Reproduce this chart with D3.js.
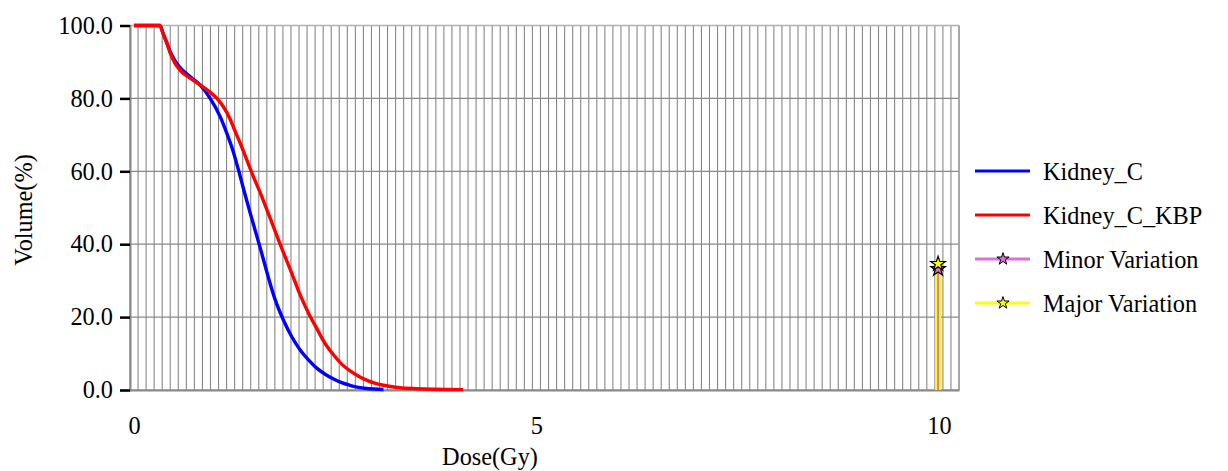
<!DOCTYPE html>
<html lang="en">
<head>
<meta charset="utf-8">
<title>Kidney_C DVH</title>
<script src="https://d3js.org/d3.v7.min.js"></script>
<style>
  body { margin: 0; background: #fff; }
  text { font-family: "Liberation Serif", "Times New Roman", serif; fill: #000; }
</style>
</head>
<body>
<script>

// Kidney_C (dose in Gy, volume in %)
var kidneyDose = [0, 0.32, 0.36, 0.41, 0.45, 0.51, 0.59, 0.70, 0.82, 0.94, 1.07, 1.15, 1.23, 1.30, 1.36, 1.44, 1.50, 1.57, 1.63, 1.67, 1.75, 1.86, 1.96, 2.06, 2.17, 2.27, 2.37, 2.48, 2.58, 2.68, 2.79, 2.89, 3.10];
var kidneyVol  = [100, 100, 97.9, 95.1, 92.8, 90.3, 88.0, 85.9, 83.7, 80.2, 75.0, 70.6, 65.6, 60.2, 55.2, 48.8, 44.2, 38.8, 34.0, 30.8, 25.0, 19.0, 14.6, 11.1, 8.2, 6.0, 4.4, 3.0, 2.0, 1.3, 0.7, 0.4, 0.15];

// Kidney_C_KBP
var kbpDose = [0, 0.32, 0.36, 0.41, 0.45, 0.51, 0.59, 0.70, 0.82, 0.94, 1.03, 1.11, 1.19, 1.25, 1.32, 1.40, 1.48, 1.57, 1.65, 1.73, 1.81, 1.90, 1.96, 2.06, 2.17, 2.27, 2.37, 2.48, 2.58, 2.68, 2.79, 2.89, 3.00, 3.10, 3.30, 3.51, 3.72, 4.09];
var kbpVol  = [100, 100, 97.9, 95.1, 92.4, 89.6, 87.3, 85.5, 83.7, 81.8, 80.0, 77.7, 74.5, 71.3, 67.7, 63.2, 58.7, 54.0, 49.5, 44.9, 40.3, 35.3, 32.0, 26.3, 21.0, 16.9, 12.9, 9.6, 7.1, 5.3, 3.8, 2.7, 1.8, 1.3, 0.6, 0.35, 0.2, 0.1];

// variation markers
var minorDose = [9.99, 9.99];
var minorVol  = [0, 33.2];
var majorDose = [9.965, 9.965, 10.015, 10.015];
var majorVol  = [0, 34.6, 34.6, 0];
var minorStar = [9.99, 33.2];
var majorStar = [9.99, 34.6];

var yTicks = [0, 20, 40, 60, 80, 100];
var xTicks = [0, 5, 10];

var legendNames = ["Kidney_C", "Kidney_C_KBP", "Minor Variation", "Major Variation"];
var legendColors = ["#0000ff", "#ff0000", "#da70d6", "#ffff00"];

var w = 1228, h = 471;
var pLeft = 130, pRight = 959, pTop = 25.5, pBottom = 390;
var fontSize = 24.3;

var xScale = d3.scaleLinear().domain([-0.05, 10.25]).range([pLeft, pRight]);
var yScale = d3.scaleLinear().domain([0, 100]).range([pBottom, pTop]);

var svg = d3.select("body").append("svg").attr("width", w).attr("height", h);

// vertical grid every 0.1 Gy
var gridX = d3.range(104).map(function(k) { return -0.05 + 0.1 * k; });
svg.append("g").selectAll("line").data(gridX).enter().append("line")
  .attr("x1", function(d) { return xScale(d); })
  .attr("x2", function(d) { return xScale(d); })
  .attr("y1", pTop).attr("y2", pBottom)
  .attr("stroke", "#888").attr("stroke-width", 1.1);

// horizontal grid
svg.append("g").selectAll("line").data(yTicks).enter().append("line")
  .attr("x1", pLeft).attr("x2", pRight)
  .attr("y1", function(d) { return yScale(d); })
  .attr("y2", function(d) { return yScale(d); })
  .attr("stroke", "#888").attr("stroke-width", 1.2);

// frame top / right
svg.append("line").attr("x1", pLeft).attr("x2", pRight).attr("y1", pTop).attr("y2", pTop)
  .attr("stroke", "#b0b0b0").attr("stroke-width", 1.5);
svg.append("line").attr("x1", pRight).attr("x2", pRight).attr("y1", pTop).attr("y2", pBottom)
  .attr("stroke", "#a0a0a0").attr("stroke-width", 1.5);

// axes
var yAxis = d3.axisLeft(yScale).tickValues(yTicks).tickFormat(d3.format(".1f"))
  .tickSize(10).tickPadding(7);
var gy = svg.append("g").attr("transform", "translate(" + pLeft + ",0)").call(yAxis);
gy.select(".domain").attr("stroke", "#888").attr("stroke-width", 2);
gy.selectAll(".tick line").attr("stroke", "#000").attr("stroke-width", 2.5);
gy.selectAll(".tick text").attr("font-size", fontSize).attr("font-family", null);

var xAxis = d3.axisBottom(xScale).tickValues(xTicks).tickFormat(d3.format("d"))
  .tickSize(0).tickPadding(27);
var gx = svg.append("g").attr("transform", "translate(0," + pBottom + ")").call(xAxis);
gx.select(".domain").attr("stroke", "#888").attr("stroke-width", 2);
gx.selectAll(".tick text").attr("font-size", fontSize).attr("font-family", null);

// axis titles
svg.append("text").attr("x", 490).attr("y", 465).attr("text-anchor", "middle")
  .attr("font-size", fontSize).text("Dose(Gy)");
svg.append("text").attr("transform", "translate(32,210) rotate(-90)")
  .attr("text-anchor", "middle").attr("font-size", fontSize).text("Volume(%)");

// curves
var line = d3.line()
  .x(function(d) { return xScale(d[0]); })
  .y(function(d) { return yScale(d[1]); })
  .curve(d3.curveMonotoneX);
var straight = d3.line()
  .x(function(d) { return xScale(d[0]); })
  .y(function(d) { return yScale(d[1]); });

svg.append("path").datum(d3.zip(minorDose, minorVol)).attr("d", straight)
  .attr("fill", "none").attr("stroke", legendColors[2]).attr("stroke-width", 2);
svg.append("path").datum(d3.zip(majorDose, majorVol)).attr("d", straight)
  .attr("fill", "none").attr("stroke", legendColors[3]).attr("stroke-width", 2);

svg.append("path").datum(d3.zip(kidneyDose, kidneyVol)).attr("d", line)
  .attr("fill", "none").attr("stroke", legendColors[0]).attr("stroke-width", 3.4);
svg.append("path").datum(d3.zip(kbpDose, kbpVol)).attr("d", line)
  .attr("fill", "none").attr("stroke", legendColors[1]).attr("stroke-width", 3.4);

var star = d3.symbol().type(d3.symbolStar);
svg.append("path").attr("d", star.size(66)())
  .attr("transform", "translate(" + xScale(minorStar[0]) + "," + yScale(minorStar[1]) + ")")
  .attr("fill", legendColors[2]).attr("stroke", "#000").attr("stroke-width", 1.2);
svg.append("path").attr("d", star.size(66)())
  .attr("transform", "translate(" + xScale(majorStar[0]) + "," + yScale(majorStar[1]) + ")")
  .attr("fill", legendColors[3]).attr("stroke", "#000").attr("stroke-width", 1.2);

// legend
var legend = svg.append("g").selectAll("g").data(legendNames).enter().append("g")
  .attr("transform", function(d, i) { return "translate(975," + (171 + i * 44) + ")"; });
legend.append("line").attr("x1", 0).attr("x2", 55).attr("y1", 0).attr("y2", 0)
  .attr("stroke", function(d, i) { return legendColors[i]; })
  .attr("stroke-width", 3);
legend.filter(function(d, i) { return i > 1; }).append("path")
  .attr("d", star.size(46)())
  .attr("transform", "translate(28,0)")
  .attr("fill", function(d) { return legendColors[legendNames.indexOf(d)]; })
  .attr("stroke", "#000").attr("stroke-width", 1);
legend.append("text").attr("x", 68).attr("dy", "0.35em")
  .attr("font-size", fontSize).text(function(d) { return d; });

</script>
</body>
</html>
